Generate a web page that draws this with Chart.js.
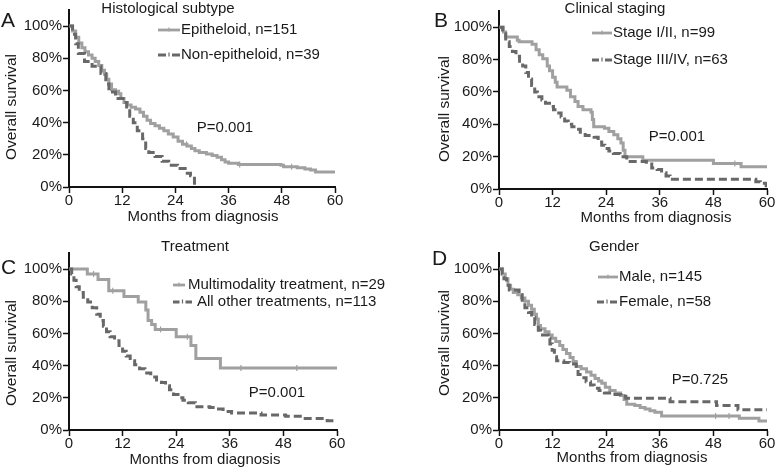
<!DOCTYPE html>
<html>
<head>
<meta charset="utf-8">
<script src="https://cdn.jsdelivr.net/npm/chart.js@4.4.0/dist/chart.umd.min.js"></script>
<style>
  html, body { margin: 0; padding: 0; background: #fff; }
  #wrap { position: relative; width: 776px; height: 468px; overflow: hidden; }
  canvas { position: absolute; }
</style>
</head>
<body>
<div id="wrap">
  <canvas id="panelA"></canvas>
  <canvas id="panelB"></canvas>
  <canvas id="panelD"></canvas>
  <canvas id="panelC"></canvas>
</div>
<script>
// ---- data (months, % surviving) ----
const xTicks = [0, 12, 24, 36, 48, 60];
const yTicks = [0, 20, 40, 60, 80, 100];

// A: histological subtype
const epiT = [0, 0.8, 1.5, 2.2, 2.9, 3.6, 4.4, 5.2, 5.9, 6.7, 7.4, 8.0, 8.5, 9.0, 9.6, 10.5, 11.2, 11.7, 12.4, 13.2, 14.0, 15.0, 16.0, 16.8, 17.6, 18.4, 19.4, 20.4, 21.4, 22.4, 23.5, 24.6, 25.6, 26.6, 27.6, 28.4, 29.4, 31.0, 32.3, 33.4, 34.4, 35.2, 36.0, 38.2, 47.8, 48.4, 51.5, 53.2, 54.5, 55.6, 60];
const epiS = [100, 97, 93, 89.5, 86.5, 84, 82, 80, 78, 75.5, 72.5, 70, 67, 64, 60.5, 59.5, 58, 55, 52.5, 51, 49.5, 48.5, 46.5, 44, 41.5, 39.5, 38, 36.5, 35, 33, 31, 28.5, 26.5, 25.5, 24, 22.5, 21.5, 20.5, 19.5, 18.5, 17, 15.5, 14.8, 14, 13.5, 12.6, 12, 11.2, 10.5, 9.3, 9.3];
const nonEpiT = [0, 0.8, 1.5, 2.1, 3.5, 5.2, 7.2, 8.3, 9.0, 10.5, 12.2, 13.0, 13.7, 14.5, 15.4, 16.6, 17.3, 18.0, 19.4, 21.0, 22.5, 24.5, 26.2, 27.4, 28.3];
const nonEpiS = [100, 95, 89, 83, 78, 75, 70.5, 64, 59, 55, 52.5, 48.5, 44, 40, 35, 30, 24, 21.5, 19, 16, 13.5, 11.5, 8.5, 7, 0];
const epiCens = [26.5, 38.5, 50.2];

// B: clinical staging
const stage12T = [0, 1.0, 1.5, 4.1, 4.5, 7.4, 8.3, 9.0, 9.8, 10.8, 11.3, 12.0, 12.6, 13.0, 15.2, 16.0, 17.0, 17.7, 18.8, 20.6, 20.9, 21.2, 23.6, 24.6, 25.7, 26.6, 27.3, 27.8, 28.2, 32.2, 48.0, 54.2, 60];
const stage12S = [100, 97, 94, 92, 91, 89.5, 86, 83, 80.5, 76, 73, 69, 66, 63, 61, 57, 54, 51, 49, 47.5, 43, 38.5, 37.5, 35.5, 33.5, 31, 28.5, 24, 20, 17.8, 15.8, 13.7, 13.7];
const stage34T = [0, 0.8, 1.5, 2.3, 3.0, 3.8, 4.6, 5.3, 6.0, 6.6, 7.3, 8.0, 8.6, 9.6, 10.4, 11.3, 12.2, 13.0, 13.9, 14.7, 15.5, 16.3, 17.4, 18.2, 19.3, 21.3, 22.2, 23.0, 23.7, 24.6, 25.6, 27.1, 28.6, 33.0, 34.2, 35.4, 36.4, 37.4, 38.3, 57.5, 58.5, 59.8, 60];
const stage34S = [100, 96, 91, 88, 85, 82, 79, 76, 72, 68, 64, 60, 57, 55, 53, 51, 49, 47, 44.5, 42, 40, 38.5, 37, 35, 33, 32, 29, 27, 25, 23.5, 22, 20, 17, 15.5, 13, 12, 10, 8, 6, 4.5, 3.5, 2, 2];
const stage12Cens = [52.8];

// C: treatment
const multiT = [0, 4.1, 6.5, 8.9, 12.3, 15.5, 17.2, 17.7, 18.5, 19.3, 24.0, 27.3, 28.4, 33.9, 60];
const multiS = [100, 97, 93.5, 86.5, 83, 79.5, 74.5, 68, 65.5, 62.5, 58, 52.5, 44.5, 38.5, 38.5];
const otherT = [0, 0.6, 1.1, 1.6, 2.3, 3.2, 4.2, 5.2, 6.2, 7.0, 7.7, 8.4, 9.2, 10.2, 11.2, 12.0, 12.8, 13.7, 14.7, 15.8, 17.0, 18.3, 19.6, 20.7, 21.6, 22.5, 23.4, 24.4, 25.5, 26.7, 28.3, 31.5, 33.0, 34.5, 36.4, 43.0, 48.5, 52.5, 57.8, 60];
const otherS = [100, 97, 93, 89, 85.5, 82.5, 79.5, 76, 72, 68, 64.5, 61, 58, 55.5, 52.5, 49, 46, 43, 40.5, 38, 35.5, 33, 31, 29.5, 27.5, 25, 22, 20, 18.5, 17, 14.5, 14, 13, 11.5, 10.5, 9.3, 8.5, 7.2, 5.8, 5.8];
const multiCens = [5.5, 9.8, 20.5, 26.5, 38.5, 51];

// D: gender
const maleT = [0, 0.8, 1.4, 2.0, 2.6, 3.2, 4.2, 5.0, 5.8, 6.6, 7.3, 7.9, 8.4, 8.8, 9.3, 10.3, 11.2, 11.9, 12.7, 13.6, 14.3, 15.1, 15.9, 16.6, 17.3, 18.4, 19.6, 20.6, 21.5, 22.3, 23.0, 23.8, 24.8, 26.0, 27.2, 28.0, 28.6, 30.4, 31.6, 32.7, 33.8, 34.9, 36.4, 53.8, 58.2, 60];
const maleS = [100, 97, 94, 90, 87.5, 85.5, 84, 82, 80, 77.5, 75, 72, 69, 65, 63, 61, 59, 57, 55, 52.5, 50, 47.5, 45, 42.5, 39.5, 38, 36, 34, 32, 30.5, 29, 26.5, 24.5, 23, 21.5, 19, 16, 15.2, 14, 13, 12, 11, 8.7, 7.3, 5.6, 5.6];
const femaleT = [0, 0.7, 1.1, 1.7, 2.3, 4.5, 5.2, 5.8, 6.6, 7.3, 8.0, 8.8, 9.3, 11.0, 11.4, 11.9, 12.4, 12.9, 14.5, 15.8, 17.3, 17.7, 18.6, 19.5, 20.5, 21.3, 22.4, 23.6, 25.4, 27.3, 28.4, 38.3, 48.7, 53.5, 60];
const femaleS = [100, 97, 94, 90, 87, 84, 79.5, 76, 73, 70, 65.5, 62, 59, 57, 53.5, 49.5, 45.5, 43, 42, 41, 38, 34.5, 32.5, 30, 28, 26, 24.5, 23, 22, 21, 19.8, 17.6, 15.2, 12.6, 12.6];
const maleCens = [48.5, 51.5];

// ---- styling ----
const FONT = '"Liberation Sans", Arial, Helvetica, sans-serif';
const SOLID = '#a0a0a0';
const DASHED = '#686868';
const INK = '#1a1a1a';

function steps(t, s) {
  return t.map((x, i) => ({ x: x, y: s[i] }));
}
function survAt(t, s, x) {
  let v = s[0];
  for (let i = 0; i < t.length; i++) if (t[i] <= x) v = s[i];
  return v;
}

// panel layout: canvas box [left, top, w, h], plot area [left, top(=110%), right, bottom(=0%)]
const panels = [
  {
    id: 'panelA', box: [0, 0, 388, 232], area: [69, 10, 335, 187],
    solid: [epiT, epiS], dashed: [nonEpiT, nonEpiS], cens: epiCens,
    letter: ['A', 1, 21], title: ['Histological subtype', 168, 9],
    yTitle: [12, 107], xTitle: [203, 217], p: ['P=0.001', 225, 128],
    legend: [
      { label: 'Epitheloid, n=151', x1: 158, x2: 180, y: 30, tx: 181, dash: false },
      { label: 'Non-epitheloid, n=39', x1: 158, x2: 180, y: 55, tx: 181, dash: true }
    ]
  },
  {
    id: 'panelB', box: [388, 0, 388, 232], area: [499, 11, 767, 189],
    solid: [stage12T, stage12S], dashed: [stage34T, stage34S], cens: stage12Cens,
    letter: ['B', 434, 21], title: ['Clinical staging', 615, 9],
    yTitle: [445, 109], xTitle: [656, 218], p: ['P=0.001', 677, 137],
    legend: [
      { label: 'Stage I/II, n=99', x1: 592, x2: 612, y: 33, tx: 613, dash: false },
      { label: 'Stage III/IV, n=63', x1: 592, x2: 612, y: 60, tx: 613, dash: true }
    ]
  },
  {
    id: 'panelC', box: [0, 232, 410, 236], area: [69, 253, 337, 430],
    solid: [multiT, multiS], dashed: [otherT, otherS], cens: multiCens,
    letter: ['C', 1, 268], title: ['Treatment', 195, 247],
    yTitle: [12, 353], xTitle: [205, 460], p: ['P=0.001', 277, 393],
    legend: [
      { label: 'Multimodality treatment, n=29', x1: 173, x2: 185, y: 285, tx: 188, dash: false },
      { label: 'All other treatments, n=113', x1: 173, x2: 192, y: 302, tx: 197, dash: true }
    ]
  },
  {
    id: 'panelD', box: [388, 232, 388, 236], area: [499, 253, 767, 430],
    solid: [maleT, maleS], dashed: [femaleT, femaleS], cens: maleCens,
    letter: ['D', 432, 259], title: ['Gender', 614, 247],
    yTitle: [445, 343], xTitle: [632, 458], p: ['P=0.725', 700, 380],
    legend: [
      { label: 'Male, n=145', x1: 598, x2: 618, y: 277, tx: 619, dash: false },
      { label: 'Female, n=58', x1: 597, x2: 617, y: 302, tx: 619, dash: true }
    ]
  }
];

function textPlugin(p) {
  const ox = p.box[0], oy = p.box[1];
  return {
    id: 'panelText',
    afterDraw(chart) {
      const ctx = chart.ctx;
      ctx.save();
      ctx.fillStyle = INK;
      ctx.textBaseline = 'middle';

      ctx.font = '21px ' + FONT;
      ctx.textAlign = 'left';
      ctx.fillText(p.letter[0], p.letter[1] - ox, p.letter[2] - oy);

      ctx.font = '15px ' + FONT;
      ctx.textAlign = 'center';
      ctx.fillText(p.title[0], p.title[1] - ox, p.title[2] - oy);
      ctx.fillText(p.p[0], p.p[1] - ox, p.p[2] - oy);
      ctx.fillText('Months from diagnosis', p.xTitle[0] - ox, p.xTitle[1] - oy);

      ctx.save();
      ctx.translate(p.yTitle[0] - ox, p.yTitle[1] - oy);
      ctx.rotate(-Math.PI / 2);
      ctx.font = '15.5px ' + FONT;
      ctx.fillText('Overall survival', 0, 0);
      ctx.restore();

      // legend
      ctx.font = '15px ' + FONT;
      ctx.textAlign = 'left';
      p.legend.forEach(function (e) {
        const y = e.y - oy, x1 = e.x1 - ox, x2 = e.x2 - ox, xm = (x1 + x2) / 2;
        ctx.lineWidth = 2.8;
        ctx.strokeStyle = e.dash ? DASHED : SOLID;
        ctx.beginPath();
        if (e.dash) {
          ctx.moveTo(x1, y); ctx.lineTo(xm - 3, y);
          ctx.moveTo(xm + 3, y); ctx.lineTo(x2, y);
        } else {
          ctx.moveTo(x1, y); ctx.lineTo(x2, y);
        }
        ctx.stroke();
        ctx.lineWidth = 1.2;
        ctx.beginPath();
        ctx.moveTo(xm, y - 2.5); ctx.lineTo(xm, y + 1.5);
        ctx.stroke();
        ctx.fillText(e.label, e.tx - ox, y);
      });
      ctx.restore();
    }
  };
}

function makeChart(p) {
  const cv = document.getElementById(p.id);
  const [L, T, W, H] = p.box;
  const [al, at, ar, ab] = p.area;
  cv.width = W; cv.height = H;
  cv.style.left = L + 'px';
  cv.style.top = T + 'px';

  const censPts = p.cens.map(function (c) {
    return { x: c, y: survAt(p.solid[0], p.solid[1], c) };
  });

  const tickFont = { family: FONT, size: 15 };
  const grid = { display: true, drawOnChartArea: false, drawTicks: true, tickLength: 6, tickColor: '#111', tickWidth: 1.5 };
  const border = { display: true, color: '#111', width: 2 };

  new Chart(cv, {
    type: 'line',
    data: {
      datasets: [
        { data: steps(p.dashed[0], p.dashed[1]), stepped: true, borderColor: DASHED, borderWidth: 3, borderDash: [8, 4], pointRadius: 0, fill: false },
        { data: steps(p.solid[0], p.solid[1]), stepped: true, borderColor: SOLID, borderWidth: 3, pointRadius: 0, fill: false },
        { data: censPts, showLine: false, pointStyle: 'line', rotation: 90, pointRadius: 3, borderColor: SOLID, borderWidth: 1.2 }
      ]
    },
    options: {
      responsive: false,
      animation: false,
      devicePixelRatio: 1,
      layout: { padding: { left: 0, top: at - T, right: L + W - ar, bottom: 0 } },
      plugins: { legend: { display: false }, tooltip: { enabled: false } },
      scales: {
        x: {
          type: 'linear', min: 0, max: 60,
          afterBuildTicks: function (s) { s.ticks = xTicks.map(v => ({ value: v })); },
          afterFit: function (s) { s.height = T + H - ab; },
          ticks: { font: tickFont, color: INK, padding: -1, maxRotation: 0 },
          grid: grid, border: border
        },
        y: {
          type: 'linear', min: 0, max: 110,
          afterBuildTicks: function (s) { s.ticks = yTicks.map(v => ({ value: v })); },
          afterFit: function (s) { s.width = al - L; },
          ticks: { font: tickFont, color: INK, padding: 1, callback: v => v + '%' },
          grid: grid, border: border
        }
      }
    },
    plugins: [textPlugin(p)]
  });
}

panels.forEach(makeChart);
</script>
</body>
</html>
